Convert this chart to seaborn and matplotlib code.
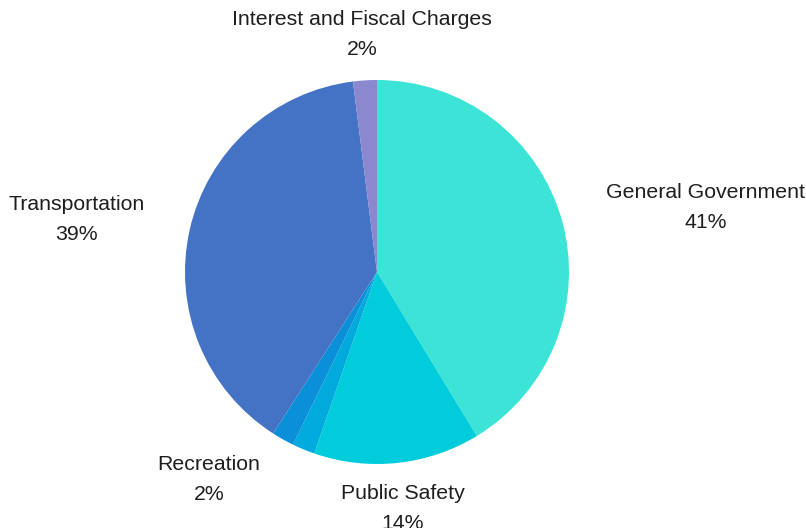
import numpy as np
import matplotlib
matplotlib.use("Agg")
import matplotlib.pyplot as plt
import seaborn as sns

categories = ["General Government", "Public Safety", "Health and Welfare",
              "Recreation", "Transportation", "Interest and Fiscal Charges"]
values = [41.3, 14.0, 1.9, 1.9, 38.9, 2.0]
show_label = [True, True, False, True, True, True]
colors = ["#3BE4D6", "#00CCDC", "#00AADD", "#0A90D8", "#4472C4", "#8B88D0"]

sns.set_theme(style="white")
plt.rcParams["font.family"] = ["Liberation Sans", "DejaVu Sans"]

fig = plt.figure(figsize=(8.06, 5.28), dpi=100)
W, H = 806, 528
cx, cy, r = 377, 272, 192
ax = fig.add_axes([(cx - r) / W, (H - cy - r) / H, 2 * r / W, 2 * r / H])
wedges, _ = ax.pie(values, colors=sns.color_palette(colors), startangle=90,
                   counterclock=False, radius=1,
                   wedgeprops=dict(linewidth=0, edgecolor="none"))
ax.set_xlim(-1, 1)
ax.set_ylim(-1, 1)
ax.set_aspect("equal")
ax.axis("off")

total = sum(values)
for w, cat, v, show in zip(wedges, categories, values, show_label):
    if not show:
        continue
    mid = np.deg2rad((w.theta1 + w.theta2) / 2)
    x, y = 1.24 * np.cos(mid), 1.24 * np.sin(mid)
    if abs(x) < 0.35:
        ha = "center"
    elif x > 0:
        ha = "left"
    else:
        ha = "right"
    ax.text(x, y, f"{cat}\n{round(v / total * 100):.0f}%", ha=ha, va="center",
            multialignment="center", fontsize=15.3, color="#1e1e1e",
            linespacing=1.7, clip_on=False)

fig.savefig("out.png", dpi=100)
